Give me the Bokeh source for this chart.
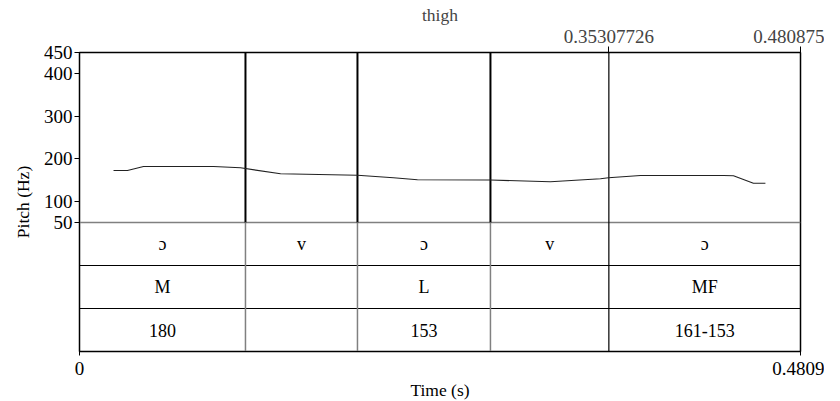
from bokeh.plotting import figure
from bokeh.models import Range1d, FixedTicker, LinearAxis, ColumnDataSource
from bokeh.core.properties import value
from bokeh.embed import file_html
from bokeh.resources import INLINE

# ---- data ----
pitch_time = [0.0227, 0.032, 0.0427, 0.0894, 0.1074, 0.1341, 0.1854, 0.2094, 0.2254,
              0.2741, 0.3141, 0.3475, 0.3528, 0.3742, 0.4295, 0.4362, 0.4495, 0.4575]
pitch_hz = [172.4, 172.4, 181.8, 181.8, 178.7, 164.6, 161.3, 155.2, 150.5,
            150.0, 145.8, 152.8, 155.2, 160.6, 160.6, 159.9, 142.5, 142.5]

interval_edges = [0.0, 0.1107, 0.1854, 0.2741, 0.35307726, 0.480875]
tier1_labels = ["ɔ", "v", "ɔ", "v", "ɔ"]
tier2_labels = ["M", "", "L", "", "MF"]
tier3_labels = ["180", "", "153", "", "161-153"]

y_ticks = [50, 100, 200, 300, 400, 450]
x_bottom_ticks = [0, 0.4809]
x_top_ticks = [0.35307726, 0.480875]
x_max = 0.4809
pitch_min, pitch_max = 50, 450

FONT = "Liberation Serif"
FS_NUM = "19px"
FS_LAB = "17.5px"
FS_TIER = "18px"

# layout (pixels)
frame_w, frame_h = 721, 299
pitch_px = 170
tier_px = 43
hz_per_px = (pitch_max - pitch_min) / pitch_px
tier_h = tier_px * hz_per_px
y_bottom = pitch_max - frame_h * hz_per_px

p = figure(frame_width=frame_w, frame_height=frame_h,
           min_border_left=79, min_border_right=24, min_border_top=52, min_border_bottom=40,
           x_range=Range1d(0, x_max), y_range=Range1d(y_bottom, pitch_max),
           output_backend="svg", toolbar_location=None, tools="")
p.xgrid.visible = False
p.ygrid.visible = False
p.outline_line_color = "black"
p.outline_line_width = 1.5
p.background_fill_color = "white"
p.border_fill_color = "white"

# axes styling
for ax in [p.xaxis[0], p.yaxis[0]]:
    ax.major_label_text_font = FONT
    ax.major_label_text_font_size = FS_NUM
    ax.axis_label_text_font = FONT
    ax.axis_label_text_font_size = FS_LAB
    ax.axis_label_text_font_style = "normal"
    ax.minor_tick_line_color = None
    ax.major_tick_in = 0
    ax.axis_line_color = "black"
    ax.major_tick_line_color = "black"
    ax.major_label_text_color = "black"
    ax.axis_label_text_color = "black"

p.yaxis.ticker = FixedTicker(ticks=y_ticks)
p.yaxis.axis_label = "Pitch (Hz)"
p.yaxis.major_tick_out = 5
p.yaxis.major_label_standoff = 2
p.yaxis.axis_label_standoff = 8

p.xaxis.ticker = FixedTicker(ticks=x_bottom_ticks)
p.xaxis.major_label_overrides = {0: "0", 0.4809: "0.4809"}
p.xaxis.axis_label = "Time (s)"
p.xaxis.major_tick_out = 4
p.xaxis.major_label_standoff = 6
p.xaxis.axis_label_standoff = 2

top = LinearAxis(ticker=FixedTicker(ticks=x_top_ticks),
                 major_label_overrides={0.35307726: "0.35307726", 0.480875: "0.480875"},
                 axis_label="thigh")
top.major_label_text_font = FONT
top.major_label_text_font_size = FS_NUM
top.axis_label_text_font = FONT
top.axis_label_text_font_size = FS_LAB
top.axis_label_text_font_style = "normal"
top.minor_tick_line_color = None
top.major_tick_in = 0
top.major_tick_out = 6
top.major_label_standoff = 4
top.axis_label_standoff = 2
top.axis_line_color = None
p.add_layout(top, "above")

# horizontal tier lines
tier_lines_y = [pitch_min - tier_h * k for k in (1, 2)]
p.segment(x0=[0], y0=[pitch_min], x1=[x_max], y1=[pitch_min], line_color="#808080", line_width=1.5)
p.segment(x0=[0] * 2, y0=tier_lines_y, x1=[x_max] * 2, y1=tier_lines_y, line_color="black", line_width=1.2)

# vertical boundaries
inner = interval_edges[1:-1]
thick = inner[:-1]
last = inner[-1]
p.segment(x0=thick, y0=[pitch_min] * len(thick), x1=thick, y1=[pitch_max] * len(thick),
          line_color="black", line_width=2)
p.segment(x0=thick, y0=[y_bottom] * len(thick), x1=thick, y1=[pitch_min] * len(thick),
          line_color="#808080", line_width=1.5)
p.segment(x0=[last], y0=[y_bottom], x1=[last], y1=[pitch_max], line_color="black", line_width=1.2)

# pitch contour
p.line(pitch_time, pitch_hz, line_color="#222222", line_width=1.1)

# tier texts
mids = [(a + b) / 2 for a, b in zip(interval_edges[:-1], interval_edges[1:])]
for k, labels in enumerate([tier1_labels, tier2_labels, tier3_labels]):
    yc = pitch_min - tier_h * (k + 0.5)
    src = ColumnDataSource(dict(x=mids, y=[yc] * len(mids), t=labels))
    p.text(x="x", y="y", text="t", source=src, text_font=value(FONT),
           text_font_size=value(FS_TIER), text_align="center", text_baseline="middle",
           text_color="black")

open("out.html", "w").write(file_html(p, INLINE))
